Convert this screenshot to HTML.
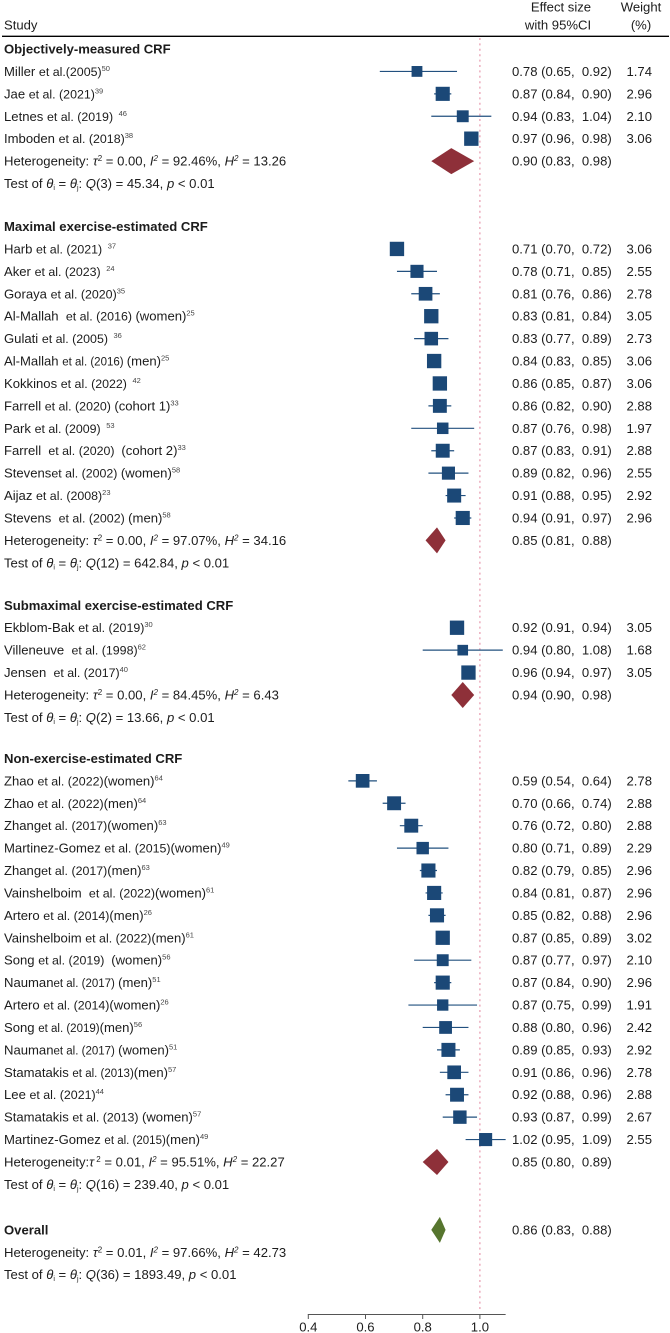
<!DOCTYPE html>
<html lang="en">
<head>
<meta charset="utf-8">
<title>Forest plot of CRF studies</title>
<style>
html,body{margin:0;padding:0;background:#fff;}
svg{display:block;}
text{font-family:"Liberation Sans",Arial,sans-serif;font-size:13.1px;fill:#1c1c1c;white-space:pre;}
</style>
</head>
<body>
<svg id="chart" xmlns="http://www.w3.org/2000/svg" width="670" height="1333" viewBox="0 0 670 1333" xml:space="preserve">
<rect x="0" y="0" width="670" height="1333" fill="#ffffff"/>
<text x="4" y="29.5">Study</text>
<text x="561" y="11.5" text-anchor="middle">Effect size</text>
<text x="558" y="29.5" text-anchor="middle">with 95%CI</text>
<text x="641" y="11.5" text-anchor="middle">Weight</text>
<text x="641" y="29.5" text-anchor="middle">(%)</text>
<line x1="2" x2="669" y1="36.3" y2="36.3" stroke="#000" stroke-width="1.3"/>
</svg>
<script>
const sectionNames = ["Objectively-measured CRF","Maximal exercise-estimated CRF","Submaximal exercise-estimated CRF","Non-exercise-estimated CRF"];
const sectionSizes = [4,13,3,17];
const studyNames = ["Miller ","Jae ","Letnes ","Imboden ",
"Harb ","Aker ","Goraya ","Al-Mallah  ","Gulati ","Al-Mallah ","Kokkinos ","Farrell ","Park ","Farrell  ","Stevens","Aijaz ","Stevens  ",
"Ekblom-Bak ","Villeneuve  ","Jensen  ",
"Zhao ","Zhao ","Zhang","Martinez-Gomez ","Zhang","Vainshelboim  ","Artero ","Vainshelboim ","Song ","Nauman","Artero ","Song ","Nauman","Stamatakis ","Lee ","Stamatakis ","Martinez-Gomez "];
const studyCitations = ["et al.(2005)","et al. (2021)","et al. (2019) ","et al. (2018)",
"et al. (2021) ","et al. (2023) ","et al. (2020)","et al. (2016) ","et al. (2005) ","et al. (2016) ","et al. (2022) ","et al. (2020) ","et al. (2009) ","et al. (2020)  ","et al. (2002) ","et al. (2008)","et al. (2002) ",
"et al. (2019)","et al. (1998)","et al. (2017)",
"et al. (2022)","et al. (2022)","et al. (2017)","et al. (2015)","et al. (2017)","et al. (2022)","et al. (2014)","et al. (2022)","et al. (2019)  ","et al. (2017) ","et al. (2014)","et al. (2019)","et al. (2017) ","et al. (2013)","et al. (2021)","et al. (2013) ","et al. (2015)"];
const studyGroups = ["","","","",
"","","","(women)","","(men)","","(cohort 1)","","(cohort 2)","(women)","","(men)",
"","","",
"(women)","(men)","(women)","(women)","(men)","(women)","(men)","(men)","(women)","(men)","(women)","(men)","(women)","(men)","","(women)","(men)"];
const studyRefs = ["50","39"," 46","38",
" 37"," 24","35","25"," 36","25"," 42","33"," 53","33","58","23","58",
"30","62","40",
"64","64","63","49","63","61","26","61","56","51","26","56","51","57","44","57","49"];
const compactCitationRows = [9,29,31,32,33,36];
const effect = [0.78,0.87,0.94,0.97,
0.71,0.78,0.81,0.83,0.83,0.84,0.86,0.86,0.87,0.87,0.89,0.91,0.94,
0.92,0.94,0.96,
0.59,0.70,0.76,0.80,0.82,0.84,0.85,0.87,0.87,0.87,0.87,0.88,0.89,0.91,0.92,0.93,1.02];
const ciLow = [0.65,0.84,0.83,0.96,
0.70,0.71,0.76,0.81,0.77,0.83,0.85,0.82,0.76,0.83,0.82,0.88,0.91,
0.91,0.80,0.94,
0.54,0.66,0.72,0.71,0.79,0.81,0.82,0.85,0.77,0.84,0.75,0.80,0.85,0.86,0.88,0.87,0.95];
const ciHigh = [0.92,0.90,1.04,0.98,
0.72,0.85,0.86,0.84,0.89,0.85,0.87,0.90,0.98,0.91,0.96,0.95,0.97,
0.94,1.08,0.97,
0.64,0.74,0.80,0.89,0.85,0.87,0.88,0.89,0.97,0.90,0.99,0.96,0.93,0.96,0.96,0.99,1.09];
const weights = [1.74,2.96,2.10,3.06,
3.06,2.55,2.78,3.05,2.73,3.06,3.06,2.88,1.97,2.88,2.55,2.92,2.96,
3.05,1.68,3.05,
2.78,2.88,2.88,2.29,2.96,2.96,2.96,3.02,2.10,2.96,1.91,2.42,2.92,2.78,2.88,2.67,2.55];
const pooledEffect = [0.90,0.85,0.94,0.85,0.86];
const pooledLow = [0.83,0.81,0.90,0.80,0.83];
const pooledHigh = [0.98,0.88,0.98,0.89,0.88];
const hetTau = ["0.00","0.00","0.00","0.01","0.01"];
const hetI2 = ["92.46","97.07","84.45","95.51","97.66"];
const hetH2 = ["13.26","34.16","6.43","22.27","42.73"];
const testDf = ["3","12","2","16","36"];
const testQ = ["45.34","642.84","13.66","239.40","1893.49"];
const axisTicks = [0.4,0.6,0.8,1.0];
const axisMin = 0.4;
const axisMax = 1.09;
const nullValue = 1.0;

const NS = "http://www.w3.org/2000/svg";
const svg = document.getElementById("chart");
const x = v => 308.3 + (v - 0.4) * 286;
const rowH = 22.42;
const BLUE = "#1b4877";

function make(tag, attrs) {
  const el = document.createElementNS(NS, tag);
  for (const k in attrs) el.setAttribute(k, attrs[k]);
  svg.appendChild(el);
  return el;
}
function span(parent, str, attrs) {
  const t = document.createElementNS(NS, "tspan");
  for (const k in (attrs || {})) t.setAttribute(k, attrs[k]);
  t.textContent = str;
  parent.appendChild(t);
  return t;
}
function ciLabel(e, l, h) {
  return e.toFixed(2) + " (" + l.toFixed(2) + ",  " + h.toFixed(2) + ")";
}
function drawCiText(y, e, l, h) {
  const t = make("text", {x: 512, y: y + 4.5});
  
  
  t.textContent = ciLabel(e, l, h);
}
function drawDiamond(y, e, l, h, color) {
  const p = make("polygon", {
    points: x(l) + "," + y + " " + x(e) + "," + (y - 13) + " " + x(h) + "," + y + " " + x(e) + "," + (y + 13),
    fill: color
  });
  
  
}
function drawHet(y, k) {
  const t = make("text", {x: 4, y: y + 4.5});
  
  
  span(t, k === 3 ? "Heterogeneity:" : "Heterogeneity: ");
  span(t, "τ", {"font-style": "italic"});
  span(t, k === 3 ? " 2" : "2", {"font-size": "8px", dy: "-4.5"});
  span(t, " = " + hetTau[k] + ", ", {dy: "4.5"});
  span(t, "I", {"font-style": "italic"});
  span(t, "2", {"font-size": "8px", dy: "-4.5", "font-style": "italic"});
  span(t, " = " + hetI2[k] + "%, ", {dy: "4.5"});
  span(t, "H", {"font-style": "italic"});
  span(t, "2", {"font-size": "8px", dy: "-4.5", "font-style": "italic"});
  span(t, " = " + hetH2[k], {dy: "4.5"});
}
function drawTest(y, k) {
  const t = make("text", {x: 4, y: y + 4.5});
  
  
  span(t, "Test of ");
  span(t, "θ", {"font-style": "italic"});
  span(t, "i", {"font-size": "7px", dy: "2"});
  span(t, " = ", {dy: "-2"});
  span(t, "θ", {"font-style": "italic"});
  span(t, "j", {"font-size": "7px", dy: "2"});
  span(t, ": ", {dy: "-2"});
  span(t, "Q", {"font-style": "italic"});
  span(t, "(" + testDf[k] + ") = " + testQ[k] + ", ");
  span(t, "p", {"font-style": "italic"});
  span(t, " < 0.01");
}
function drawHeader(y, name) {
  const t = make("text", {x: 4, y: y + 4.5, "font-weight": "bold"});
  
  
  t.textContent = name;
}
function drawStudy(y, i) {
  const cx = x(effect[i]);
  const size = 8.2 * Math.sqrt(weights[i]);

  const ci = make("line", {x1: x(ciLow[i]), x2: x(ciHigh[i]), y1: y, y2: y, stroke: "#22507f", "stroke-width": 1.2});
  
  

  const m = make("rect", {x: cx - size / 2, y: y - size / 2, width: size, height: size, fill: BLUE});
  
  

  const t = make("text", {x: 4, y: y + 4.5});
  
  
  span(t, studyNames[i]);
  span(t, studyCitations[i], {"font-size": compactCitationRows.includes(i) ? "11.5px" : "12.4px"});
  span(t, studyGroups[i]);
  span(t, studyRefs[i], {"font-size": "7.5px", dy: "-5", fill: "#444"});

  drawCiText(y, effect[i], ciLow[i], ciHigh[i]);

  const w = make("text", {x: 652, y: y + 4.5, "text-anchor": "end"});
  
  
  w.textContent = weights[i].toFixed(2);
}

/* reference line */
const refLine = make("line", {x1: x(nullValue), x2: x(nullValue), y1: 38, y2: 1310, stroke: "#e58fa6", "stroke-width": 1.1, "stroke-dasharray": "2 3.4"});



/* rows */
(function () {
  const sectionGap = [43, 42.5, 41, 45.5];
  let y = 49;
  let idx = 0;
  sectionNames.forEach(function (name, s) {
    drawHeader(y, name);
    y += rowH;
    for (let n = 0; n < sectionSizes[s]; n++) {
      drawStudy(y, idx);
      idx++;
      y += rowH;
    }
    drawDiamond(y, pooledEffect[s], pooledLow[s], pooledHigh[s], "#8e3039");
    drawCiText(y, pooledEffect[s], pooledLow[s], pooledHigh[s]);
    drawHet(y, s);
    y += rowH;
    drawTest(y, s);
    y += sectionGap[s];
  });
  drawHeader(y, "Overall");
  drawDiamond(y, pooledEffect[4], pooledLow[4], pooledHigh[4], "#56752e");
  drawCiText(y, pooledEffect[4], pooledLow[4], pooledHigh[4]);
  y += rowH;
  drawHet(y, 4);
  y += rowH;
  drawTest(y, 4);
})();

/* axis */
const axisLine = make("line", {x1: x(axisMin) - 0.5, x2: x(axisMax), y1: 1314.5, y2: 1314.5, stroke: "#555", "stroke-width": 1});


axisTicks.forEach(function (v) {
  const tick = make("line", {x1: x(v), x2: x(v), y1: 1314.5, y2: 1319, stroke: "#555", "stroke-width": 1});
  
  
  const lab = make("text", {x: x(v), y: 1331.5, "text-anchor": "middle"});
  
  
  lab.textContent = v.toFixed(1);
});
</script>
</body>
</html>
